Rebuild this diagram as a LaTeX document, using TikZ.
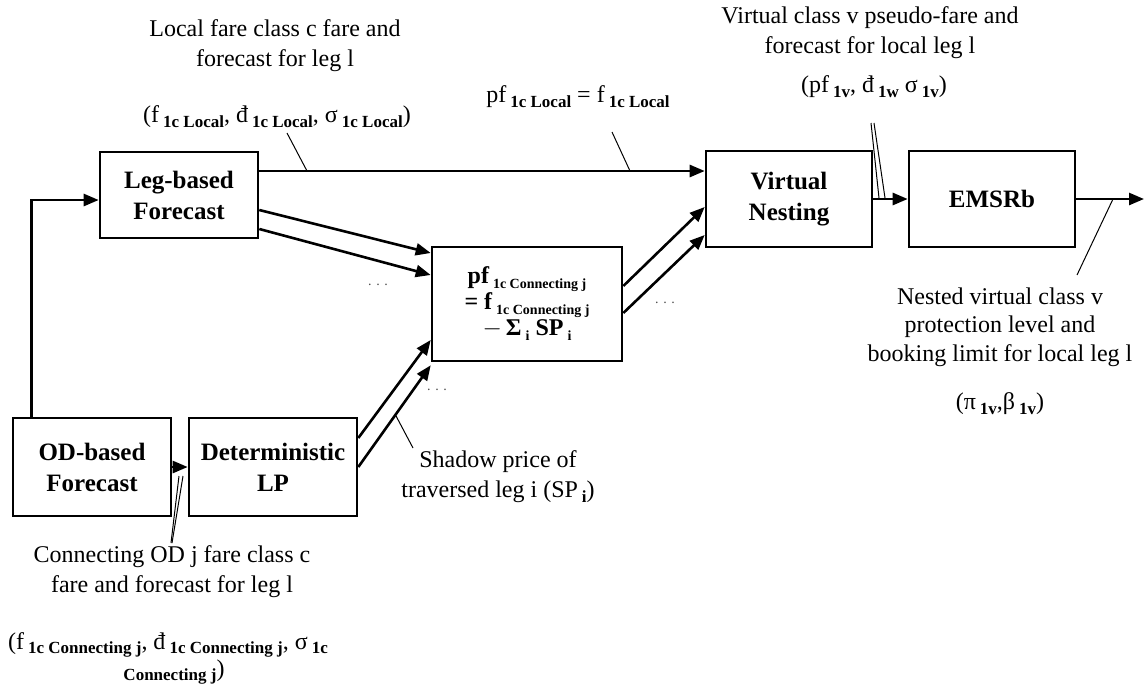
\documentclass[tikz,border=0pt]{standalone}
\usepackage{fontspec}
\setmainfont{Liberation Serif}
\usetikzlibrary{arrows.meta}
\newcommand\lowsub[1]{\,\raisebox{-0.4ex}{\fontsize{17}{17}\selectfont\bfseries #1}}
\newcommand\csub[1]{\,\raisebox{-0.45ex}{\fontsize{14}{14}\selectfont\bfseries #1}}
\begin{document}
\begin{tikzpicture}[x=1pt,y=-1pt,
  box/.style={draw, line width=2.6pt, rectangle, inner sep=0pt, align=center,
              font=\fontsize{25}{31}\selectfont\bfseries},
  arr/.style={line width=2.6pt, -{Triangle[length=15pt,width=12pt]}},
  lead/.style={line width=1pt},
  lbl/.style={align=center, font=\fontsize{24}{30}\selectfont, inner sep=0pt},
  dotsn/.style={font=\fontsize{14}{14}\selectfont, text=black!70, inner sep=0pt}]
\useasboundingbox (0,0) rectangle (1145,686);

% boxes
\node[box, minimum width=158pt, minimum height=86pt] (leg) at (179,195) {Leg-based\\Forecast};
\node[box, minimum width=158pt, minimum height=98pt] (od) at (92,467) {OD-based\\Forecast};
\node[box, minimum width=168pt, minimum height=98pt] (lp) at (273,467) {Deterministic\\LP};
\node[box, minimum width=190pt, minimum height=114pt, font=\fontsize{24}{26}\selectfont\bfseries] (cen) at (527,304)
  {pf\csub{1c Connecting j}\\= f\csub{1c Connecting j}\\$-$\,Σ\csub{i} SP\csub{i}};
\node[box, minimum width=166pt, minimum height=96pt] (vn) at (789,199) {Virtual\\Nesting};
\node[box, minimum width=166pt, minimum height=96pt] (ems) at (992,199) {EMSRb};
\coordinate (out) at (1144,199);

% connectors
\draw[arr] ([xshift=20pt]od.north west) |- ([yshift=-5pt]leg.west);
\draw[arr] ([yshift=24pt]leg.east) -- ([yshift=24pt]leg.east -| vn.west);
\draw[arr] ([yshift=-15pt]leg.east) -- ([yshift=51pt]cen.west);
\draw[arr] ([yshift=-34pt]leg.east) -- ([yshift=29pt]cen.west);
\draw[arr] ([yshift=18pt]cen.east) -- ([yshift=-8pt]vn.west);
\draw[arr] ([yshift=-9pt]cen.east) -- ([yshift=-36pt]vn.west);
\draw[arr] ([yshift=29pt]lp.east) -- ([yshift=-36pt]cen.west);
\draw[arr] (lp.east) -- ([yshift=-3pt]cen.south west);
\draw[arr] (od.east) -- (lp.west);
\draw[arr] (vn.east) -- (ems.west);
\draw[arr] (ems.east) -- (out);

% dots
\node[dotsn] (d1) at (378,285) {. . .};
\node[dotsn] (d2) at (665,303) {. . .};
\node[dotsn] (d3) at (437,390) {. . .};

% labels
\node[lbl] (la) at (275,46) {Local fare class c fare and\\forecast for leg l};
\node[lbl] (laf) at (277,117) {(f\lowsub{1c Local}, đ\lowsub{1c Local}, σ\lowsub{1c Local})};
\node[lbl] (pfl) at (578,97) {pf\lowsub{1c Local} = f\lowsub{1c Local}};
\node[lbl] (va) at (870,33) {Virtual class v pseudo-fare and\\forecast for local leg l};
\node[lbl] (vaf) at (874,87) {(pf\lowsub{1v}, đ\lowsub{1w} σ\lowsub{1v})};
\node[lbl, font=\fontsize{24}{28.5}\selectfont] (na) at (1000,327) {Nested virtual class v\\protection level and\\booking limit for local leg l};
\node[lbl] (naf) at (1000,404) {(π\lowsub{1v},β\lowsub{1v})};
\node[lbl] (sp) at (498,477) {Shadow price of\\traversed leg i (SP\lowsub{i})};
\node[lbl] (cn) at (172,572) {Connecting OD j fare class c\\fare and forecast for leg l};
\node[lbl, anchor=west] (cnf) at (8,645) {(f\lowsub{1c Connecting j}, đ\lowsub{1c Connecting j}, σ\lowsub{1c}};
\node[lbl] (cnf2) at (172,672) {\lowsub{Connecting j})};

% leader lines
\coordinate (p1a) at (287,133); \coordinate (p1b) at (307,171);
\coordinate (p2a) at (612,132); \coordinate (p2b) at (630,171);
\coordinate (p3a) at (871,123); \coordinate (p3b) at (879,198);
\coordinate (p3c) at (874,123); \coordinate (p3d) at (885,198);
\coordinate (p4a) at (1113,199); \coordinate (p4b) at (1077,275);
\coordinate (p5a) at (395,414); \coordinate (p5b) at (413,448);
\coordinate (p6a) at (183,476); \coordinate (p6b) at (172,543);
\coordinate (p6c) at (179,476); \coordinate (p6d) at (171,543);
\draw[lead] (p1a) -- (p1b);
\draw[lead] (p2a) -- (p2b);
\draw[lead] (p3a) -- (p3b);
\draw[lead] (p3c) -- (p3d);
\draw[lead] (p4a) -- (p4b);
\draw[lead] (p5a) -- (p5b);
\draw[lead] (p6a) -- (p6b);
\draw[lead] (p6c) -- (p6d);
\end{tikzpicture}
\end{document}
